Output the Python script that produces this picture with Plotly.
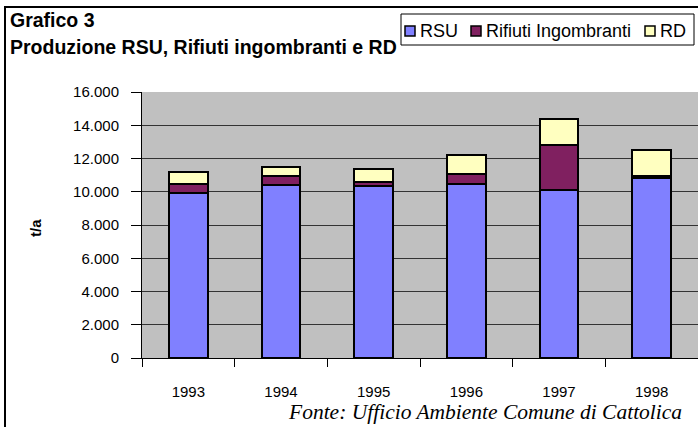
import plotly.graph_objects as go

years = ["1993", "1994", "1995", "1996", "1997", "1998"]
rsu = [9950, 10380, 10360, 10480, 10080, 10800]
ingombranti = [540, 540, 225, 560, 2750, 165]
rd = [700, 585, 800, 1200, 1545, 1520]
y_ticks = [0, 2000, 4000, 6000, 8000, 10000, 12000, 14000, 16000]
y_tick_labels = ["0", "2.000", "4.000", "6.000", "8.000", "10.000", "12.000", "14.000", "16.000"]
series_names = ["RSU", "Rifiuti Ingombranti", "RD"]
series_colors = ["#8080FF", "#802060", "#FFFFC0"]

W, H = 698, 427
L, R, T, B = 142, 0, 92, 69
pw, ph = W - L - R, H - T - B


def px_x(p):
    return (p - L) / pw


def px_y(p):
    return (H - B - p) / ph


fig = go.Figure()
for name, vals, col in zip(series_names, [rsu, ingombranti, rd], series_colors):
    fig.add_trace(go.Bar(x=years, y=vals, name=name, width=0.42,
                         marker=dict(color=col, line=dict(color="black", width=2))))

shapes = [dict(type="rect", xref="paper", yref="paper",
               x0=px_x(5), x1=px_x(W + 20), y0=px_y(H + 20), y1=px_y(7),
               line=dict(color="black", width=2), fillcolor="rgba(0,0,0,0)", layer="above"),
          dict(type="rect", xref="paper", yref="paper",
               x0=px_x(401), x1=px_x(694), y0=px_y(45), y1=px_y(14),
               line=dict(color="black", width=1), fillcolor="white", layer="above")]

annotations = [
    dict(text="<b>Grafico 3</b>", xref="paper", yref="paper",
         x=px_x(8), y=px_y(20), xanchor="left", yanchor="middle",
         showarrow=False, font=dict(size=19.5)),
    dict(text="<b>Produzione RSU, Rifiuti ingombranti e RD</b>", xref="paper", yref="paper",
         x=px_x(8), y=px_y(47), xanchor="left", yanchor="middle",
         showarrow=False, font=dict(size=19.5)),
    dict(text="<i>Fonte: Ufficio Ambiente Comune di Cattolica</i>", xref="paper", yref="paper",
         x=px_x(684), y=px_y(412), xanchor="right", yanchor="middle",
         showarrow=False, font=dict(size=21.5, family="Liberation Serif, Times New Roman")),
    dict(text="<b>t/a</b>", xref="paper", yref="paper",
         x=px_x(35), y=px_y(228), xanchor="center", yanchor="middle", textangle=-90,
         showarrow=False, font=dict(size=15)),
]

legend_sq_x = [405, 471, 645]
for sx, name, col in zip(legend_sq_x, series_names, series_colors):
    shapes.append(dict(type="rect", xref="paper", yref="paper",
                       x0=px_x(sx), x1=px_x(sx + 10), y0=px_y(36), y1=px_y(26),
                       line=dict(color="black", width=1.5), fillcolor=col, layer="above"))
    annotations.append(dict(text=name, xref="paper", yref="paper",
                            x=px_x(sx + 13), y=px_y(31), xanchor="left", yanchor="middle",
                            showarrow=False, font=dict(size=18)))

fig.update_layout(
    width=W, height=H, barmode="stack",
    margin=dict(l=L, r=R, t=T, b=B, pad=0),
    paper_bgcolor="white", plot_bgcolor="#C0C0C0",
    font=dict(family="Liberation Sans, Arial", size=15, color="black"),
    showlegend=False,
    xaxis=dict(type="category", tickson="boundaries", ticks="outside", ticklen=8,
               tickcolor="black", showline=True, linecolor="black", linewidth=1,
               showgrid=False, tickfont=dict(size=15), ticklabelstandoff=20),
    yaxis=dict(range=[0, 16000], tickvals=y_ticks, ticktext=y_tick_labels,
               ticks="outside", ticklen=10, tickcolor="black",
               showline=True, linecolor="black", linewidth=1,
               showgrid=True, gridcolor="#333333", gridwidth=1,
               zeroline=False, tickfont=dict(size=15), ticklabelstandoff=9),
    shapes=shapes,
    annotations=annotations,
)

fig.write_html("out.html", config={"displayModeBar": False},
               post_script="document.body.style.margin='0px';document.body.style.overflow='hidden';")
